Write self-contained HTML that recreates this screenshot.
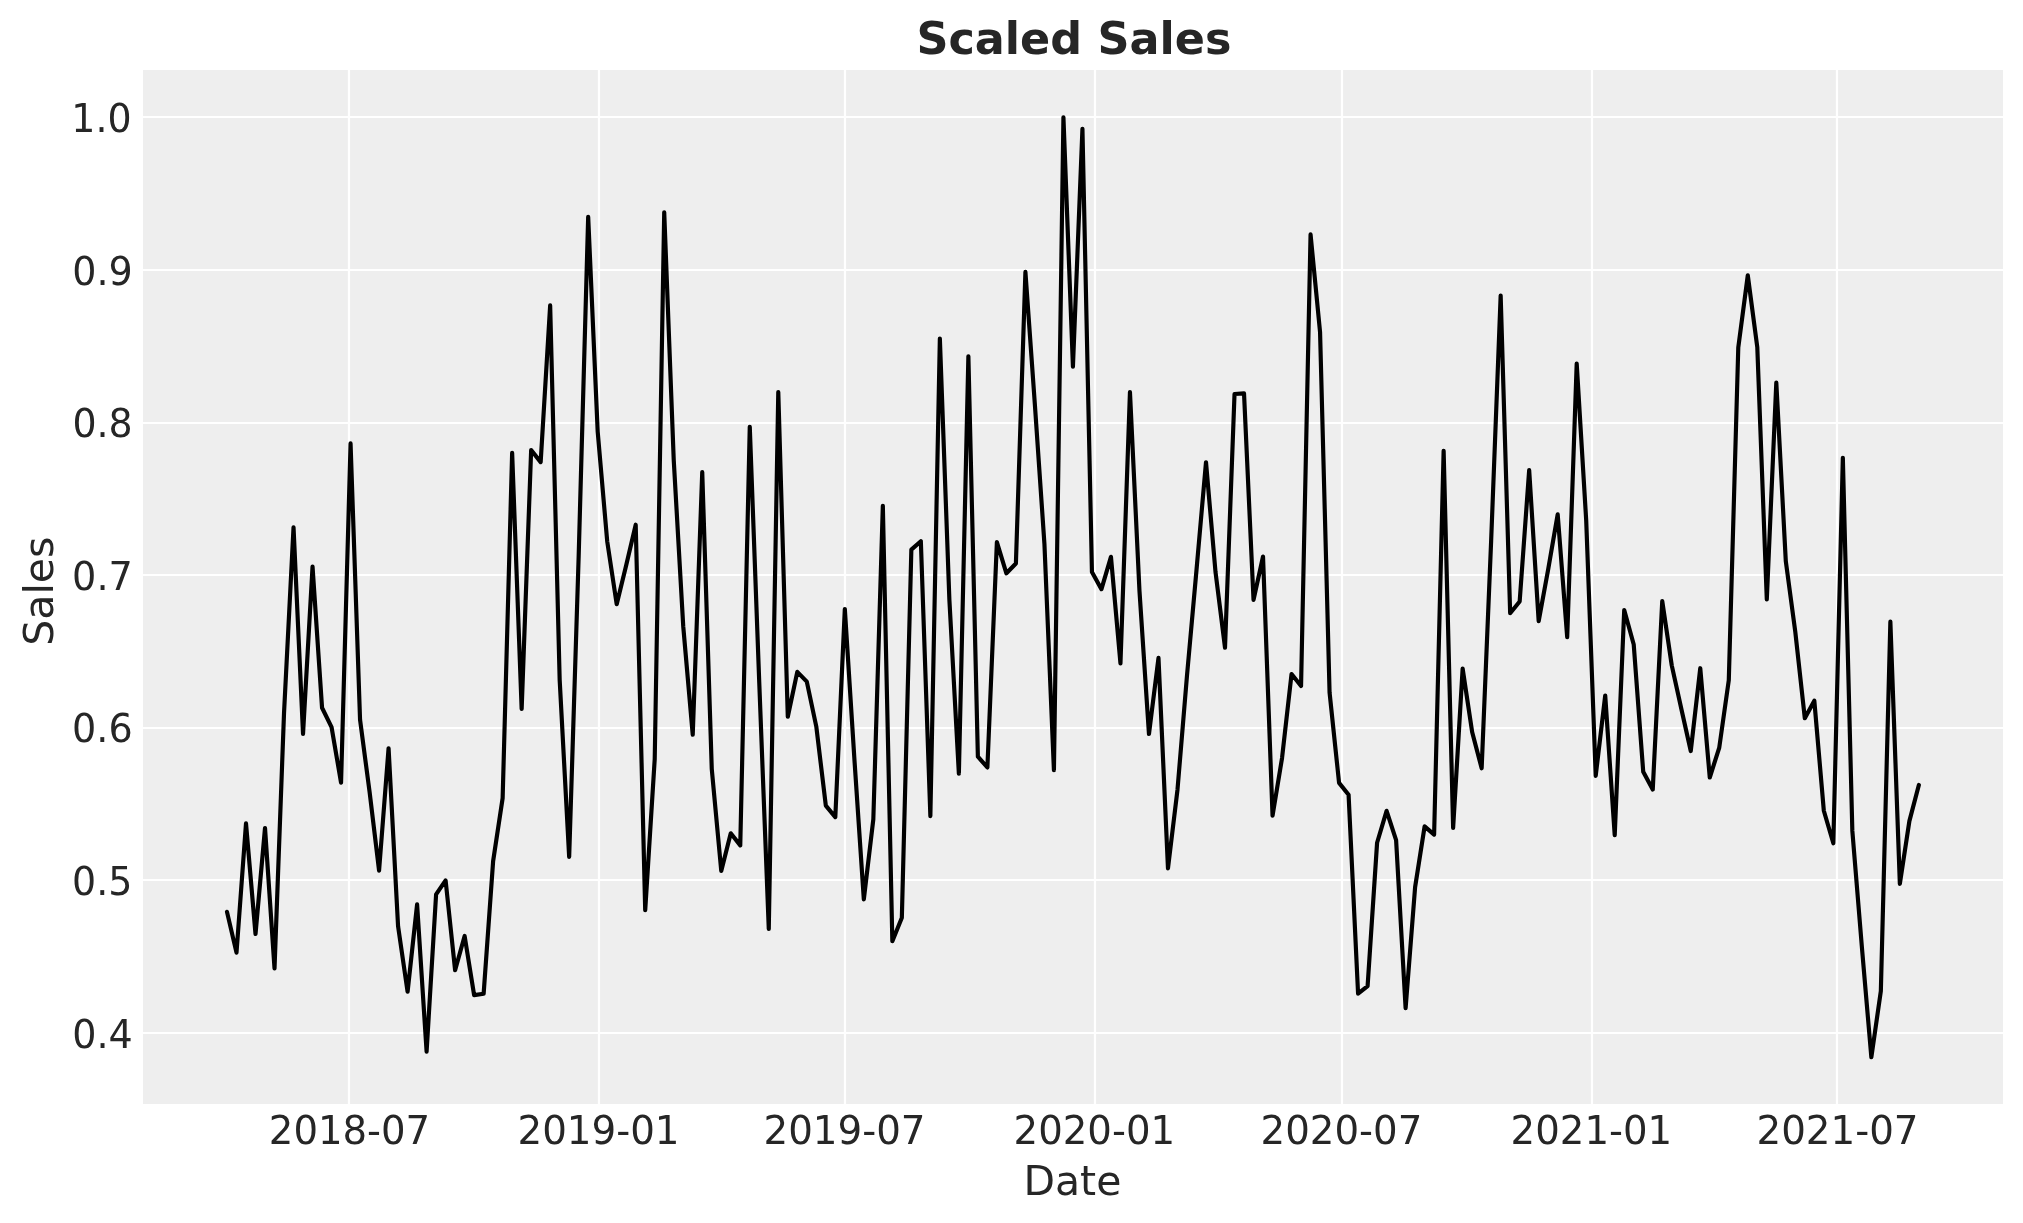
<!DOCTYPE html>
<html><head><meta charset="utf-8"><title>Scaled Sales</title>
<style>
html,body{margin:0;padding:0;background:#fff;}
body{width:2023px;height:1223px;overflow:hidden;}
svg{display:block;will-change:transform;}
text{font-family:"DejaVu Sans","Liberation Sans",sans-serif;fill:#262626;}
</style></head><body>
<svg width="2023" height="1223" viewBox="0 0 2023 1223">
<rect x="0" y="0" width="2023" height="1223" fill="#ffffff"/>
<rect x="143" y="70" width="1860" height="1034" fill="#eeeeee"/>
<g stroke="#ffffff" stroke-width="2.22" fill="none">
<line x1="349" y1="70" x2="349" y2="1104"/>
<line x1="599" y1="70" x2="599" y2="1104"/>
<line x1="845" y1="70" x2="845" y2="1104"/>
<line x1="1095" y1="70" x2="1095" y2="1104"/>
<line x1="1342" y1="70" x2="1342" y2="1104"/>
<line x1="1592" y1="70" x2="1592" y2="1104"/>
<line x1="1837" y1="70" x2="1837" y2="1104"/>
<line x1="143" y1="1033" x2="2003" y2="1033"/>
<line x1="143" y1="880" x2="2003" y2="880"/>
<line x1="143" y1="728" x2="2003" y2="728"/>
<line x1="143" y1="575" x2="2003" y2="575"/>
<line x1="143" y1="423" x2="2003" y2="423"/>
<line x1="143" y1="270" x2="2003" y2="270"/>
<line x1="143" y1="117" x2="2003" y2="117"/>
</g>
<polyline fill="none" stroke="#000000" stroke-width="4.1667" stroke-linejoin="round" stroke-linecap="round" points="226.99,911.89 236.50,952.61 246.00,823.35 255.51,934.00 265.01,828.00 274.52,968.30 284.02,713.09 293.53,527.39 303.03,733.90 312.54,566.57 322.04,707.76 331.55,727.05 341.05,782.66 350.56,443.45 360.06,719.81 369.57,791.82 379.07,870.61 388.58,748.26 398.08,926.30 407.59,991.71 417.09,904.41 426.60,1051.66 436.10,894.45 445.61,880.36 455.11,970.23 464.62,935.96 474.12,995.09 483.63,993.73 493.13,861.13 502.64,798.10 512.14,452.88 521.65,708.81 531.15,450.04 540.66,462.11 550.16,305.44 559.67,679.77 569.17,856.80 578.68,555.78 588.18,216.81 597.69,431.62 607.19,541.19 616.70,604.21 626.20,565.28 635.71,524.71 645.21,910.14 654.72,759.01 664.22,212.37 673.73,459.81 683.23,626.24 692.74,734.70 702.24,472.17 711.75,768.82 721.25,870.92 730.76,833.29 740.26,845.37 749.77,426.86 759.27,683.04 768.78,929.03 778.28,392.14 787.79,716.75 797.29,671.83 806.80,681.67 816.30,726.56 825.81,805.55 835.31,817.05 844.82,608.99 854.32,757.90 863.83,899.33 873.33,819.23 882.84,505.79 892.34,941.22 901.84,917.75 911.35,549.61 920.85,541.20 930.36,816.07 939.86,338.53 949.37,599.52 958.87,773.69 968.38,356.32 977.88,756.67 987.39,767.47 996.89,542.13 1006.40,573.30 1015.90,563.45 1025.41,271.95 1034.91,405.04 1044.42,543.77 1053.92,770.19 1063.43,117.40 1072.93,366.62 1082.44,128.80 1091.94,571.91 1101.45,589.17 1110.95,556.79 1120.46,663.41 1129.96,392.18 1139.47,590.93 1148.97,734.03 1158.48,657.89 1167.98,868.30 1177.49,789.69 1186.99,675.60 1196.50,569.95 1206.00,462.22 1215.51,572.08 1225.01,647.63 1234.52,394.04 1244.02,393.42 1253.53,599.91 1263.03,556.57 1272.54,815.75 1282.04,758.05 1291.55,674.00 1301.05,685.99 1310.56,234.45 1320.06,332.13 1329.57,692.45 1339.07,782.85 1348.58,794.69 1358.08,993.73 1367.59,986.14 1377.09,842.76 1386.60,810.79 1396.10,840.04 1405.61,1008.15 1415.11,887.16 1424.62,826.41 1434.12,834.56 1443.63,450.77 1453.13,827.90 1462.64,668.65 1472.14,731.95 1481.65,768.26 1491.15,540.61 1500.66,295.58 1510.16,613.21 1519.67,601.44 1529.17,470.17 1538.68,621.23 1548.18,569.38 1557.69,514.30 1567.19,637.11 1576.70,363.61 1586.20,520.34 1595.71,775.83 1605.21,695.50 1614.72,835.23 1624.22,609.97 1633.73,644.56 1643.23,771.85 1652.74,789.53 1662.24,600.99 1671.75,665.35 1681.25,708.46 1690.76,751.02 1700.26,668.21 1709.77,777.52 1719.27,747.54 1728.78,680.32 1738.28,347.45 1747.79,275.38 1757.29,347.16 1766.80,599.31 1776.30,382.56 1785.81,561.27 1795.31,631.96 1804.82,718.17 1814.32,700.70 1823.83,810.73 1833.33,843.29 1842.84,457.87 1852.34,830.90 1861.84,946.68 1871.35,1057.25 1880.85,991.04 1890.36,621.68 1899.86,883.81 1909.37,821.13 1918.87,784.98"/>
<text transform="matrix(0.9933,0,0,1,349.49,1144)" font-size="38.89px" text-anchor="middle">2018-07</text>
<text transform="matrix(0.9977,0,0,1,598.48,1144)" font-size="38.89px" text-anchor="middle">2019-01</text>
<text transform="matrix(0.9973,0,0,1,844.51,1144)" font-size="38.89px" text-anchor="middle">2019-07</text>
<text transform="matrix(0.9947,0,0,1,1094.32,1144)" font-size="38.89px" text-anchor="middle">2020-01</text>
<text transform="matrix(0.9958,0,0,1,1341.40,1144)" font-size="38.89px" text-anchor="middle">2020-07</text>
<text transform="matrix(0.9951,0,0,1,1591.39,1144)" font-size="38.89px" text-anchor="middle">2021-01</text>
<text transform="matrix(0.9975,0,0,1,1837.47,1144)" font-size="38.89px" text-anchor="middle">2021-07</text>
<text transform="matrix(0.9789,0,0,1,132.83,1048)" font-size="38.89px" text-anchor="end">0.4</text>
<text transform="matrix(0.9755,0,0,1,132.33,895)" font-size="38.89px" text-anchor="end">0.5</text>
<text transform="matrix(0.9806,0,0,1,132.67,742)" font-size="38.89px" text-anchor="end">0.6</text>
<text transform="matrix(0.9823,0,0,1,132.83,590)" font-size="38.89px" text-anchor="end">0.7</text>
<text transform="matrix(0.9752,0,0,1,132.76,437)" font-size="38.89px" text-anchor="end">0.8</text>
<text transform="matrix(0.9780,0,0,1,132.72,285)" font-size="38.89px" text-anchor="end">0.9</text>
<text transform="matrix(0.9746,0,0,1,131.59,132)" font-size="38.89px" text-anchor="end">1.0</text>
<text transform="matrix(0.9831,0,0,1,1072.44,1195)" font-size="41.67px" text-anchor="middle">Date</text>
<text transform="matrix(0,-0.9860,1,0,52.80,591.14)" font-size="41.67px" text-anchor="middle">Sales</text>
<text transform="matrix(1.0012,0,0,1,1073.96,54)" font-size="44.44px" text-anchor="middle" font-weight="bold">Scaled Sales</text>
</svg>
</body></html>
